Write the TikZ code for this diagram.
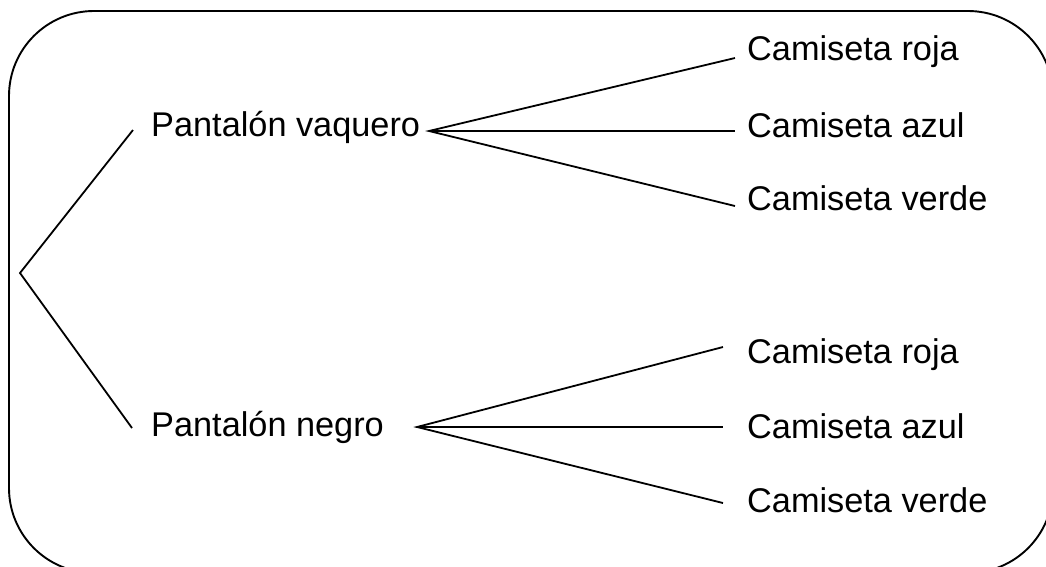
\documentclass[tikz,border=0pt]{standalone}
\usepackage{fontspec}
\setmainfont{Liberation Sans}
\begin{document}
\begin{tikzpicture}[x=1pt,y=-1pt,
  lbl/.style={anchor=base west,inner sep=0pt,font=\fontsize{34.3}{40}\selectfont},
  edge/.style={line width=1.8pt,line join=miter},
  frame/.style={line width=1.9pt,rounded corners=85pt}]
\useasboundingbox (0,0) rectangle (1046,566);
\clip (0,0) rectangle (1046,566);
\draw[frame] (9,11) rectangle (1053,573);
% coordinates
\coordinate (root) at (20,273);
\coordinate (pvin) at (133,130);
\coordinate (pnin) at (132,428);
\coordinate (pvout) at (429,131);
\coordinate (pnout) at (417,427);
\coordinate (v1) at (735,58);
\coordinate (v2) at (735,131);
\coordinate (v3) at (735,206);
\coordinate (n1) at (723,347);
\coordinate (n2) at (723,427);
\coordinate (n3) at (723,503);
% labels
\node[lbl] (pv) at (151,136) {Pantalón vaquero};
\node[lbl] (pn) at (151,436) {Pantalón negro};
\node[lbl] (tv1) at (747,60) {Camiseta roja};
\node[lbl] (tv2) at (747,137) {Camiseta azul};
\node[lbl] (tv3) at (747,210) {Camiseta verde};
\node[lbl] (tn1) at (747,363) {Camiseta roja};
\node[lbl] (tn2) at (747,438) {Camiseta azul};
\node[lbl] (tn3) at (747,512) {Camiseta verde};
% connectors
\draw[edge] (pvin) -- (root) -- (pnin);
\draw[edge] (v1) -- (pvout) -- (v3);
\draw[edge] (pvout) -- (v2);
\draw[edge] (n1) -- (pnout) -- (n3);
\draw[edge] (pnout) -- (n2);
\end{tikzpicture}
\end{document}
